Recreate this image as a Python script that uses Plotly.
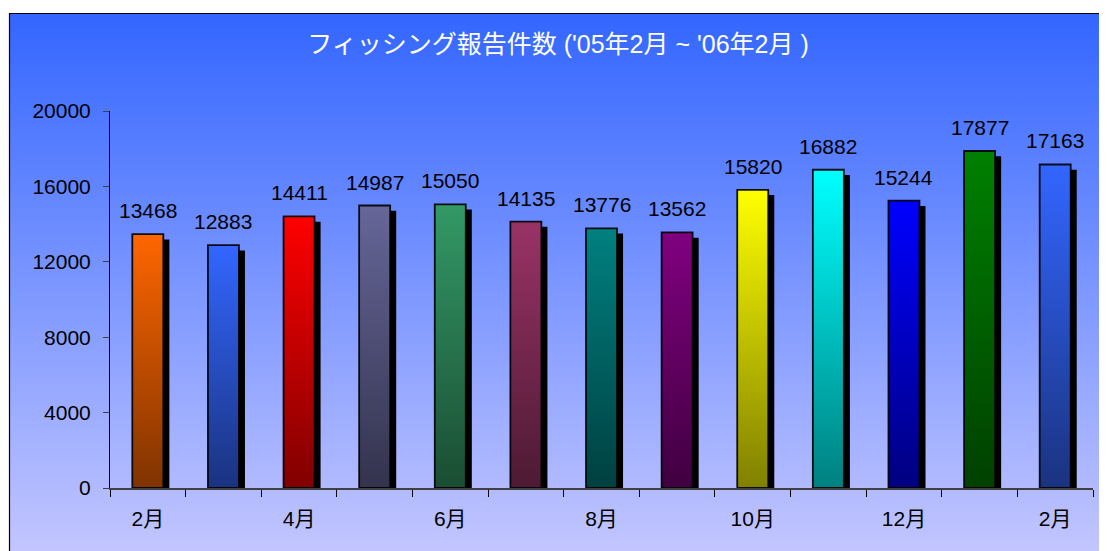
import plotly.graph_objects as go

# ---- data ----
months = ["2月", "3月", "4月", "5月", "6月", "7月", "8月", "9月", "10月", "11月", "12月", "1月", "2月"]
reports = [13468, 12883, 14411, 14987, 15050, 14135, 13776, 13562, 15820, 16882, 15244, 17877, 17163]
bar_top_colors = ["#FF6600", "#3366FF", "#FF0000", "#666699", "#339966", "#993366", "#008080",
                  "#800080", "#FFFF00", "#00FFFF", "#0000FF", "#008000", "#3366FF"]
bar_bottom_colors = ["#7F3300", "#1A3380", "#800000", "#33334D", "#1A4D33", "#4D1A33", "#004040",
                     "#400040", "#808000", "#008080", "#000080", "#004000", "#1A3380"]
tick_positions = [0, 2, 4, 6, 8, 10, 12]
tick_labels = ["2月", "4月", "6月", "8月", "10月", "12月", "2月"]
y_ticks = [0, 4000, 8000, 12000, 16000, 20000]
y_tick_labels = ["0", "4000", "8000", "12000", "16000", "20000"]
title_text = "フィッシング報告件数 ('05年2月 ~ '06年2月 )"

W, H = 1107, 551
OFF = 8  # page body margin
FONT = "Liberation Sans, Arial, Noto Sans CJK JP, sans-serif"
BAR_W = 0.41
SH_DX = 0.08      # shadow offset in category units
SH_DY = 280       # shadow offset in value units

fig = go.Figure()

# background panel with vertical gradient (subplot x/y covering whole paper)
x0 = (9.5 - OFF) / W
y1 = 1 - (13.5 - OFF) / H
fig.add_trace(go.Scatter(
    x=[x0, 1.05, 1.05, x0, x0], y=[-0.05, -0.05, y1, y1, -0.05],
    mode="lines", fill="toself",
    fillgradient=dict(type="vertical", colorscale=[[0, "#CCCCFF"], [1, "#3366FF"]]),
    line=dict(color="black", width=1.2),
    hoverinfo="skip", showlegend=False, xaxis="x", yaxis="y"))

# bars: shadow + gradient body
for i, (v, ct, cb) in enumerate(zip(reports, bar_top_colors, bar_bottom_colors)):
    l, r = i - BAR_W / 2, i + BAR_W / 2
    fig.add_trace(go.Scatter(
        x=[l + SH_DX, r + SH_DX, r + SH_DX, l + SH_DX, l + SH_DX],
        y=[0, 0, v - SH_DY, v - SH_DY, 0],
        mode="lines", fill="toself", fillcolor="black",
        line=dict(color="black", width=0),
        hoverinfo="skip", showlegend=False, xaxis="x2", yaxis="y2"))
    fig.add_trace(go.Scatter(
        x=[l, r, r, l, l], y=[0, 0, v, v, 0],
        mode="lines", fill="toself",
        fillgradient=dict(type="vertical", colorscale=[[0, cb], [1, ct]]),
        line=dict(color="rgba(0,0,0,0.9)", width=1.8),
        name=months[i], showlegend=False, xaxis="x2", yaxis="y2"))
    fig.add_annotation(x=i, y=v, xref="x2", yref="y2", text=str(v),
                       showarrow=False, yanchor="bottom", yshift=10,
                       font=dict(family=FONT, size=21, color="black"))

fig.update_layout(
    template="none",
    width=W, height=H,
    margin=dict(l=0, r=0, t=0, b=0, pad=0, autoexpand=False),
    paper_bgcolor="white", plot_bgcolor="rgba(0,0,0,0)",
    font=dict(family=FONT, size=21, color="black"),
    title=dict(text=title_text, x=(558 - OFF) / W, xanchor="center",
               y=1 - (44 - OFF) / H, yanchor="middle",
               font=dict(family=FONT, size=25, color="white")),
    xaxis=dict(domain=[0, 1], range=[0, 1], visible=False, fixedrange=True, automargin=False),
    yaxis=dict(domain=[0, 1], range=[0, 1], visible=False, fixedrange=True, automargin=False),
    xaxis2=dict(domain=[(110 - OFF) / W, (1093 - OFF) / W], range=[-0.5, 12.5], anchor="y2",
                automargin=False,
                showline=True, linecolor="#404040", linewidth=1.5,
                showgrid=False, zeroline=False,
                tickmode="array", tickvals=tick_positions, ticktext=tick_labels,
                ticks="", ticklabelstandoff=11,
                tickfont=dict(family=FONT, size=21, color="black"),
                minor=dict(tick0=-0.5, dtick=1, ticks="outside", ticklen=7,
                           tickcolor="black", tickwidth=1, showgrid=False)),
    yaxis2=dict(domain=[(H - (488 - OFF)) / H, (H - (111 - OFF)) / H], range=[0, 20000],
                anchor="x2", automargin=False,
                showline=True, linecolor="black", linewidth=1,
                showgrid=False, zeroline=False,
                tickmode="array", tickvals=y_ticks, ticktext=y_tick_labels,
                ticks="outside", ticklen=6, tickcolor="#404040",
                ticklabelstandoff=8,
                tickfont=dict(family=FONT, size=21, color="black")),
)

fig.write_html("out.html")
